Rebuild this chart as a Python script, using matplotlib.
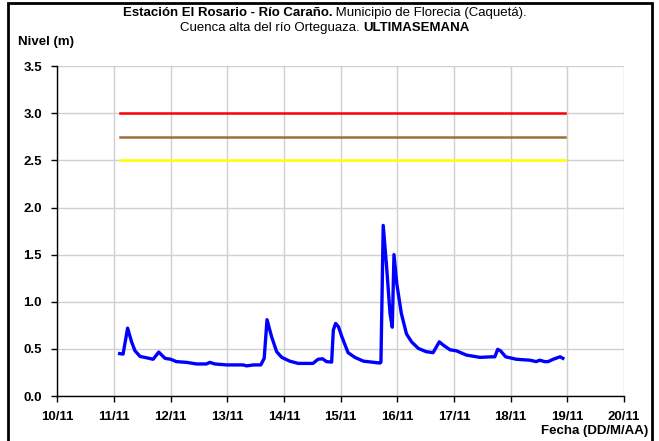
import matplotlib.pyplot as plt
from matplotlib.patches import Rectangle

plt.rcParams['font.family'] = ['Liberation Sans', 'DejaVu Sans']

# day of November (fractional) and river level in metres
dias = [11.10, 11.16, 11.24, 11.31, 11.37, 11.46, 11.58, 11.69, 11.79, 11.90,
        12.00, 12.10, 12.28, 12.46, 12.63, 12.69, 12.78, 12.99, 13.28, 13.34,
        13.46, 13.59, 13.65, 13.70, 13.78, 13.87, 13.96, 14.10, 14.25, 14.51,
        14.60, 14.68, 14.75, 14.84, 14.87, 14.91, 14.96, 15.02, 15.13, 15.25,
        15.40, 15.69, 15.71, 15.75, 15.81, 15.87, 15.91, 15.94, 15.99, 16.07,
        16.16, 16.25, 16.37, 16.51, 16.63, 16.74, 16.81, 16.93, 17.04, 17.22,
        17.46, 17.66, 17.72, 17.77, 17.82, 17.91, 18.10, 18.34, 18.45, 18.51,
        18.60, 18.66, 18.75, 18.87, 18.92]
nivel = [0.45, 0.445, 0.72, 0.575, 0.48, 0.42, 0.405, 0.39, 0.466, 0.40,
         0.39, 0.365, 0.357, 0.34, 0.34, 0.357, 0.34, 0.33, 0.33, 0.32,
         0.33, 0.33, 0.40, 0.81, 0.63, 0.47, 0.41, 0.37, 0.346, 0.346,
         0.39, 0.395, 0.365, 0.36, 0.70, 0.77, 0.735, 0.63, 0.46, 0.41,
         0.37, 0.35, 0.36, 1.81, 1.37, 0.876, 0.73, 1.50, 1.19, 0.876,
         0.66, 0.575, 0.505, 0.47, 0.46, 0.575, 0.54, 0.49, 0.48, 0.434,
         0.41, 0.416, 0.416, 0.495, 0.48, 0.416, 0.39, 0.38, 0.365, 0.38,
         0.365, 0.365, 0.39, 0.416, 0.40]

# alert thresholds
umbral_x = [11.11, 18.96]
umbral_rojo = 3.0
umbral_naranja = 2.75
umbral_amarillo = 2.5

x_ticks = list(range(10, 21))
x_labels = ['%d/11' % d for d in x_ticks]
y_ticks = [0.0, 0.5, 1.0, 1.5, 2.0, 2.5, 3.0, 3.5]

fs = 9.5

fig = plt.figure(figsize=(6.59, 4.41), dpi=100)
ax = fig.add_axes([0.087, 0.102, 0.86, 0.748])

ax.plot(umbral_x, [umbral_rojo] * 2, color='#ff0000', lw=1.8)
ax.plot(umbral_x, [umbral_naranja] * 2, color='#a0703c', lw=1.8)
ax.plot(umbral_x, [umbral_amarillo] * 2, color='#ffff00', lw=1.8)
ax.plot(dias, nivel, color='#0000ff', lw=2.4)

ax.set_xlim(10, 20)
ax.set_ylim(0, 3.5)
ax.set_xticks(x_ticks)
ax.set_xticklabels(x_labels, fontsize=fs, fontweight='bold')
ax.set_yticks(y_ticks)
ax.set_yticklabels(['%.1f' % v for v in y_ticks], fontsize=fs, fontweight='bold')
ax.grid(True, color='#d0d0d0', lw=1)
ax.set_axisbelow(True)
for s in ['top', 'right']:
    ax.spines[s].set_visible(False)
ax.spines['left'].set_linewidth(1)
ax.spines['bottom'].set_linewidth(1)
ax.tick_params(length=4, width=1, pad=7)

# texts
fig.text(18 / 659, 1 - 42 / 441, 'Nivel (m)', fontsize=fs, fontweight='bold',
         ha='left', va='center')
fig.text(648 / 659, 1 - 431 / 441, 'Fecha (DD/M/AA)', fontsize=fs,
         fontweight='bold', ha='right', va='center')

# two-line title with mixed weights
fig.canvas.draw()
r = fig.canvas.get_renderer()
lineas = [[('Estación El Rosario - Río Caraño.', 'bold'),
           (' Municipio de Florecia (Caquetá).', 'normal')],
          [('Cuenca alta del río Orteguaza. ', 'normal'),
           ('ULTIMASEMANA', 'bold')]]
ys = [1 - 13 / 441, 1 - 28 / 441]
cx = 325 / 659
for partes, yy in zip(lineas, ys):
    textos = [fig.text(0, yy, t, fontsize=fs, fontweight=w, va='center')
              for t, w in partes]
    anchos = [t.get_window_extent(r).width / fig.bbox.width for t in textos]
    x0 = cx - sum(anchos) / 2
    for t, a in zip(textos, anchos):
        t.set_x(x0)
        x0 += a

# outer frame, open at the bottom edge of the image
fig.patches.append(Rectangle((8 / 659, -0.05), 644 / 659, 1 - 3 / 441 + 0.05,
                             transform=fig.transFigure, fill=False,
                             edgecolor='black', lw=2))

fig.savefig('out.png', dpi=100)
